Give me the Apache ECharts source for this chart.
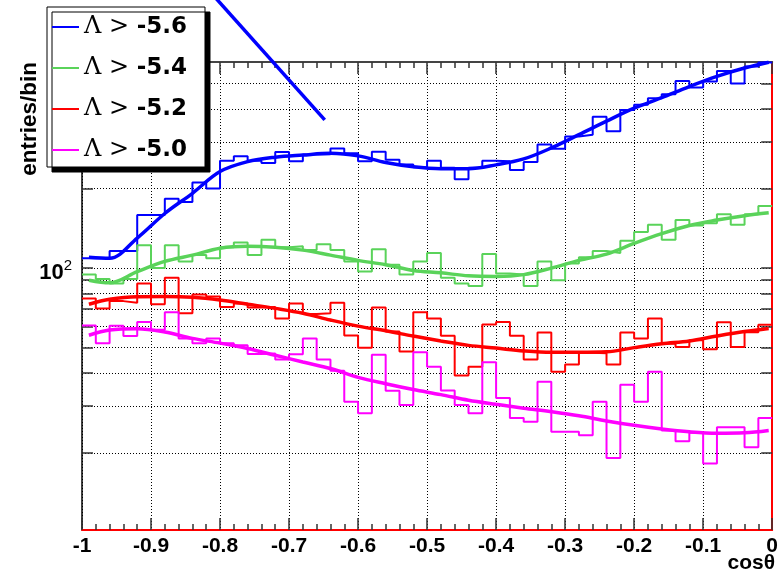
<!DOCTYPE html>
<html><head><meta charset="utf-8">
<script src="https://cdn.jsdelivr.net/npm/echarts@6/dist/echarts.min.js"></script>
<style>html,body{margin:0;padding:0;background:#fff}#c{width:781px;height:584px}</style>
</head><body><div id="c"></div>
<script>
// ---- data ----
const seriesNames = ['Λ > -5.6', 'Λ > -5.4', 'Λ > -5.2', 'Λ > -5.0'];
const seriesColors = ['#0000ff', '#5ad35a', '#ff0000', '#ff00ff'];
const binStart = -1, binWidth = 0.02, binCount = 50;

const histBlue = [109,109,116,116,159,159,183,178,211,200,255,265,255,250,275,254,269,270,284,272,
  254,276,257,247,241,255,240,217,240,255,254,235,252,294,283,315,320,374,330,397,
  415,440,455,511,483,509,558,500,580,600];
const histGreen = [94.6,91,87.5,91,122,100,122,106,112,109,120,125,112,128,120,121,117,123,117,106,
  97,118,103,94.5,106,114,92,87.5,85.6,113,95.5,94.5,85.6,106,90,104,110,116,114,127,
  137,146,128,152,145,148,160,146,160,172];
const histRed = [76.8,70.4,75,74,87.5,73,92,67.5,79.5,78,71.3,73.5,71,71.3,64.5,73.5,67,67.5,74,55.6,
  50,71,57.5,48.3,68,64.5,55.4,39.2,42.3,61.2,62.5,55.4,45.1,57,40.5,43.2,47.8,47.6,43.2,57,
  54.2,64.5,51.7,50.3,53.3,49.3,62.4,50.3,57.2,61];
const histMagenta = [60.6,52,60.5,55.3,62.5,58.5,68,54.2,52,54.2,52,51.1,47.3,47.5,45.1,47.2,54.2,45.1,40.9,31.2,
  28.2,47,34.3,30.3,48,42.3,34.4,30.3,28.2,44,32.2,27.1,26.2,37.1,24,24,23.3,31.2,19.1,36.2,
  31.2,40.5,24.3,22.1,23.8,18.2,25,25,21,27.1];

const fitX = [-0.99,-0.96,-0.92,-0.88,-0.84,-0.80,-0.76,-0.72,-0.68,-0.64,-0.60,-0.56,-0.52,-0.48,
  -0.44,-0.40,-0.36,-0.32,-0.28,-0.24,-0.20,-0.16,-0.12,-0.08,-0.04,-0.005];
const fitBlue = [110,109,130,161,192,232,253,263,268,272,266,251,242,238,238,246,259,285,320,360,403,442,487,532,572,602];
const fitGreen = [90,88,97,106,112,119,121,120,117,112,107,103,98,96,93.5,93,94.5,100,107,113,124,135,145,152,158,162];
const fitRed = [73,76.2,77.9,78,77.5,75.7,73,70.4,67.5,63.6,60.3,57.9,55.3,53,51,49.8,48.6,48,48,48.2,50,51.7,53,55.3,57.5,59.1];
const fitMagenta = [55.7,58.3,59,57.3,54.2,52,49.6,46.8,44.1,41.7,38.6,36.5,34.7,33.2,31.6,30.5,29.5,28.6,27.6,26.4,25.4,24.6,24,23.7,23.8,24.3];

const strayLineX = [-0.6483, -0.81];
const strayLineY = [364, 1080];

const yMin = 10.2, yMax = 603;
const yTicks = [20,30,40,50,60,70,80,90,100,200,300,400,500];
const yLabelTicks = [100];

// ---- build ----
const hists = [histBlue, histGreen, histRed, histMagenta];
const fits = [fitBlue, fitGreen, fitRed, fitMagenta];

function histData(vals) {
  const d = vals.map((v, i) => [binStart + i * binWidth, v]);
  d.push([binStart + binCount * binWidth, vals[vals.length - 1]]);
  return d;
}

const series = [];
hists.forEach((h, k) => {
  series.push({
    name: seriesNames[k], type: 'line', step: 'end', data: histData(h),
    showSymbol: false, symbol: 'none', color: seriesColors[k],
    lineStyle: { width: 2, color: seriesColors[k] }, z: 3
  });
});
fits.forEach((f, k) => {
  series.push({
    name: seriesNames[k], type: 'line', smooth: 0.35, data: fitX.map((x, i) => [x, f[i]]),
    showSymbol: false, symbol: 'none', color: seriesColors[k],
    lineStyle: { width: 3.5, color: seriesColors[k] }, z: 4
  });
});
series.push({
  name: 'stray', type: 'line', clip: false, data: strayLineX.map((x, i) => [x, strayLineY[i]]),
  showSymbol: false, symbol: 'none', color: seriesColors[0],
  lineStyle: { width: 3.5, color: seriesColors[0] }, z: 4
});

const dotted = { color: '#000', width: 1, type: [1, 2] };
const baseY = { type: 'log', min: yMin, max: yMax, logBase: 10 };

const option = {
  animation: false,
  backgroundColor: '#fff',
  grid: { left: 82, right: 8, top: 62, bottom: 54 },
  title: {
    text: 'cosθ', right: 6, top: 553, padding: 0,
    textStyle: { fontFamily: 'Liberation Sans', fontWeight: 'bold', fontSize: 21, color: '#000' }
  },
  graphic: [{
    type: 'text', x: 30, y: 62, rotation: Math.PI / 2,
    style: { text: 'entries/bin', font: 'bold 22.5px "Liberation Sans"', fill: '#000', align: 'right', verticalAlign: 'middle' }
  }],
  legend: {
    data: seriesNames, orient: 'vertical', left: 47, top: 7,
    padding: [8, 18, 5, 5], itemGap: 17, itemWidth: 27, itemHeight: 2, icon: 'rect',
    backgroundColor: '#fff', borderColor: '#000', borderWidth: 1,
    shadowColor: '#000', shadowBlur: 0, shadowOffsetX: 5, shadowOffsetY: 5,
    selectedMode: false,
    formatter: (name) => {
      const p = name.split(' ');
      return '{s|' + p[0] + ' ' + p[1] + ' }{b|' + p[2] + '}';
    },
    textStyle: {
      rich: {
        s: { fontFamily: 'DejaVu Serif', fontSize: 24, color: '#000', lineHeight: 30 },
        b: { fontFamily: 'DejaVu Sans', fontWeight: 'bold', fontSize: 23, color: '#000', lineHeight: 30 }
      }
    }
  },
  xAxis: [{
    type: 'value', min: -1, max: 0, interval: 0.1, position: 'bottom',
    axisLine: { show: true, onZero: false, lineStyle: { color: '#ff0000', width: 2 } },
    axisTick: { inside: true, length: 12, lineStyle: { color: '#333', width: 1.5 } },
    minorTick: { show: true, splitNumber: 5, length: 6, lineStyle: { color: '#333', width: 1.5 } },
    splitLine: { show: true, lineStyle: dotted },
    axisLabel: {
      show: true, margin: 6, showMinLabel: true, showMaxLabel: true, hideOverlap: false,
      fontFamily: 'Liberation Sans', fontWeight: 'bold', fontSize: 21, color: '#000'
    }
  }, {
    type: 'value', min: -1, max: 0, interval: 0.1, position: 'top',
    axisLine: { show: true, onZero: false, lineStyle: { color: '#444', width: 2 } },
    axisTick: { inside: true, length: 12, lineStyle: { color: '#333', width: 1.5 } },
    minorTick: { show: true, splitNumber: 5, length: 6, lineStyle: { color: '#333', width: 1.5 } },
    splitLine: { show: false }, axisLabel: { show: false }
  }],
  yAxis: [
    Object.assign({}, baseY, {
      position: 'left',
      axisLine: { show: true, onZero: false, lineStyle: { color: '#000', width: 1.5 } },
      axisTick: { inside: true, length: 11, customValues: yTicks, lineStyle: { color: '#333', width: 1.5 } },
      splitLine: { show: true, lineStyle: dotted },
      axisLabel: {
        show: true, customValues: yLabelTicks, margin: 10,
        formatter: () => '{b|10}{s|2}',
        rich: {
          b: { fontFamily: 'Liberation Sans', fontWeight: 'bold', fontSize: 22, color: '#000', lineHeight: 23, padding: [10, 0, 0, 0] },
          s: { fontFamily: 'Liberation Sans', fontSize: 15, color: '#000', lineHeight: 17, verticalAlign: 'top', padding: [2, 0, 0, 0] }
        }
      }
    }),
    Object.assign({}, baseY, {
      position: 'right',
      axisLine: { show: true, onZero: false, lineStyle: { color: '#ff0000', width: 2 } },
      axisTick: { inside: true, length: 11, customValues: yTicks, lineStyle: { color: '#333', width: 1.5 } },
      splitLine: { show: false }, axisLabel: { show: false }
    })
  ],
  series: series
};

const chart = echarts.init(document.getElementById('c'), null, { renderer: 'canvas' });
chart.setOption(option);
</script>
</body></html>
